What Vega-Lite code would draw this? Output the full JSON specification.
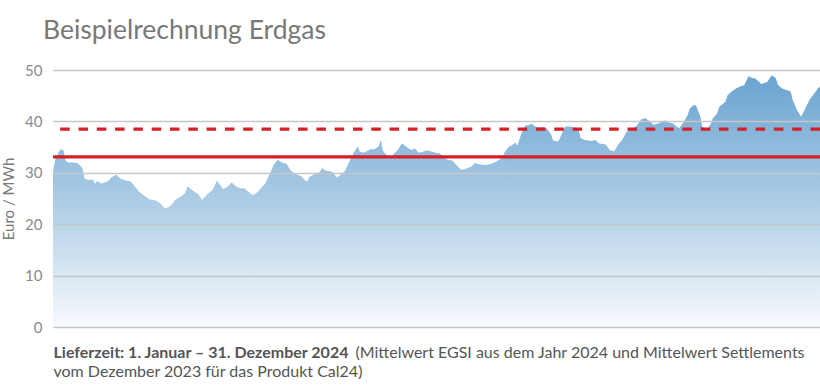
{
  "$schema": "https://vega.github.io/schema/vega-lite/v6.json",
  "width": 767,
  "height": 257,
  "autosize": {"type": "none"},
  "padding": {"left": 53, "top": 70, "right": 0, "bottom": 63},
  "background": "white",
  "config": {"view": {"stroke": null}, "font": "Lato"},
  "title": {
    "text": "Beispielrechnung Erdgas",
    "anchor": "start",
    "frame": "group",
    "font": "Lato",
    "fontSize": 26.5,
    "fontWeight": "normal",
    "color": "#787878",
    "offset": 19,
    "dx": -10
  },
  "datasets": {
    "preise": [
      {"tag": 0, "wert": 30.2}, {"tag": 1, "wert": 32.5}, {"tag": 3, "wert": 34.3}, {"tag": 4, "wert": 34.6},
      {"tag": 5, "wert": 34.4}, {"tag": 6, "wert": 32.4}, {"tag": 7, "wert": 32.0}, {"tag": 9, "wert": 32.0},
      {"tag": 10, "wert": 32.0}, {"tag": 12, "wert": 31.8}, {"tag": 14, "wert": 30.9}, {"tag": 15, "wert": 28.9},
      {"tag": 17, "wert": 28.6}, {"tag": 19, "wert": 28.7}, {"tag": 20, "wert": 27.8}, {"tag": 21, "wert": 28.4},
      {"tag": 23, "wert": 27.9}, {"tag": 26, "wert": 28.3}, {"tag": 28, "wert": 29.2}, {"tag": 30, "wert": 29.6},
      {"tag": 32, "wert": 28.9}, {"tag": 34, "wert": 28.6}, {"tag": 37, "wert": 28.3}, {"tag": 39, "wert": 27.3},
      {"tag": 41, "wert": 26.3}, {"tag": 44, "wert": 25.4}, {"tag": 46, "wert": 24.8}, {"tag": 49, "wert": 24.6},
      {"tag": 51, "wert": 24.1}, {"tag": 53, "wert": 23.1}, {"tag": 55, "wert": 23.3}, {"tag": 57, "wert": 24.1},
      {"tag": 58, "wert": 24.7}, {"tag": 60, "wert": 25.2}, {"tag": 61, "wert": 25.4}, {"tag": 63, "wert": 26.1},
      {"tag": 64, "wert": 27.4}, {"tag": 66, "wert": 26.7}, {"tag": 68, "wert": 26.1}, {"tag": 69, "wert": 25.9},
      {"tag": 71, "wert": 24.7}, {"tag": 73, "wert": 25.7}, {"tag": 76, "wert": 26.7}, {"tag": 78, "wert": 28.5},
      {"tag": 79, "wert": 27.9}, {"tag": 81, "wert": 26.8}, {"tag": 83, "wert": 27.3}, {"tag": 85, "wert": 28.1},
      {"tag": 87, "wert": 27.4}, {"tag": 89, "wert": 27.0}, {"tag": 91, "wert": 27.0}, {"tag": 93, "wert": 26.3},
      {"tag": 95, "wert": 25.7}, {"tag": 97, "wert": 26.1}, {"tag": 99, "wert": 27.0}, {"tag": 101, "wert": 27.9},
      {"tag": 103, "wert": 29.6}, {"tag": 105, "wert": 31.5}, {"tag": 107, "wert": 32.6}, {"tag": 108, "wert": 32.2},
      {"tag": 110, "wert": 31.8}, {"tag": 111, "wert": 31.8}, {"tag": 113, "wert": 30.5}, {"tag": 115, "wert": 29.8},
      {"tag": 118, "wert": 29.4}, {"tag": 120, "wert": 28.5}, {"tag": 121, "wert": 28.3}, {"tag": 122, "wert": 29.2},
      {"tag": 125, "wert": 29.8}, {"tag": 127, "wert": 30.2}, {"tag": 128, "wert": 30.9}, {"tag": 130, "wert": 30.4},
      {"tag": 133, "wert": 30.2}, {"tag": 135, "wert": 29.1}, {"tag": 137, "wert": 29.6}, {"tag": 139, "wert": 30.4},
      {"tag": 141, "wert": 32.2}, {"tag": 143, "wert": 33.8}, {"tag": 145, "wert": 35.1}, {"tag": 146, "wert": 34.1},
      {"tag": 148, "wert": 33.9}, {"tag": 151, "wert": 34.6}, {"tag": 153, "wert": 34.6}, {"tag": 155, "wert": 35.1},
      {"tag": 156, "wert": 36.4}, {"tag": 157, "wert": 34.3}, {"tag": 159, "wert": 33.3}, {"tag": 161, "wert": 33.2},
      {"tag": 164, "wert": 34.4}, {"tag": 166, "wert": 35.7}, {"tag": 168, "wert": 35.1}, {"tag": 169, "wert": 34.8},
      {"tag": 171, "wert": 34.4}, {"tag": 172, "wert": 34.8}, {"tag": 174, "wert": 33.9}, {"tag": 176, "wert": 34.1},
      {"tag": 178, "wert": 34.4}, {"tag": 182, "wert": 33.9}, {"tag": 184, "wert": 33.8}, {"tag": 186, "wert": 33.0},
      {"tag": 188, "wert": 32.5}, {"tag": 190, "wert": 32.4}, {"tag": 192, "wert": 31.5}, {"tag": 194, "wert": 30.7},
      {"tag": 195, "wert": 30.6}, {"tag": 197, "wert": 30.9}, {"tag": 199, "wert": 31.2}, {"tag": 201, "wert": 32.0},
      {"tag": 202, "wert": 31.7}, {"tag": 205, "wert": 31.5}, {"tag": 206, "wert": 31.5}, {"tag": 209, "wert": 31.8},
      {"tag": 211, "wert": 32.2}, {"tag": 214, "wert": 33.0}, {"tag": 215, "wert": 34.1}, {"tag": 217, "wert": 35.1},
      {"tag": 218, "wert": 35.2}, {"tag": 220, "wert": 35.9}, {"tag": 221, "wert": 35.3}, {"tag": 223, "wert": 37.8},
      {"tag": 225, "wert": 39.3}, {"tag": 226, "wert": 39.2}, {"tag": 228, "wert": 39.6}, {"tag": 229, "wert": 39.1},
      {"tag": 231, "wert": 38.8}, {"tag": 233, "wert": 38.9}, {"tag": 235, "wert": 38.6}, {"tag": 237, "wert": 37.5},
      {"tag": 238, "wert": 36.3}, {"tag": 240, "wert": 36.1}, {"tag": 241, "wert": 36.5}, {"tag": 243, "wert": 38.5},
      {"tag": 244, "wert": 39.0}, {"tag": 246, "wert": 39.0}, {"tag": 248, "wert": 38.8}, {"tag": 250, "wert": 38.6},
      {"tag": 251, "wert": 36.8}, {"tag": 253, "wert": 36.4}, {"tag": 256, "wert": 36.2}, {"tag": 258, "wert": 36.4},
      {"tag": 260, "wert": 35.7}, {"tag": 263, "wert": 35.5}, {"tag": 265, "wert": 34.4}, {"tag": 267, "wert": 34.2},
      {"tag": 269, "wert": 35.5}, {"tag": 271, "wert": 36.5}, {"tag": 273, "wert": 38.0}, {"tag": 276, "wert": 38.6},
      {"tag": 278, "wert": 39.3}, {"tag": 280, "wert": 40.4}, {"tag": 282, "wert": 40.6}, {"tag": 284, "wert": 40.0},
      {"tag": 286, "wert": 39.3}, {"tag": 287, "wert": 39.5}, {"tag": 289, "wert": 39.8}, {"tag": 291, "wert": 40.2},
      {"tag": 293, "wert": 39.8}, {"tag": 295, "wert": 39.6}, {"tag": 297, "wert": 38.9}, {"tag": 298, "wert": 38.7},
      {"tag": 300, "wert": 39.8}, {"tag": 302, "wert": 41.2}, {"tag": 303, "wert": 42.5}, {"tag": 305, "wert": 43.2},
      {"tag": 306, "wert": 43.1}, {"tag": 308, "wert": 41.0}, {"tag": 309, "wert": 39.0}, {"tag": 311, "wert": 38.3},
      {"tag": 313, "wert": 39.5}, {"tag": 314, "wert": 40.6}, {"tag": 316, "wert": 41.5}, {"tag": 317, "wert": 42.8},
      {"tag": 320, "wert": 43.8}, {"tag": 321, "wert": 45.1}, {"tag": 323, "wert": 45.8}, {"tag": 325, "wert": 46.4},
      {"tag": 327, "wert": 46.8}, {"tag": 329, "wert": 47.1}, {"tag": 331, "wert": 48.8}, {"tag": 333, "wert": 48.4},
      {"tag": 334, "wert": 48.4}, {"tag": 336, "wert": 47.7}, {"tag": 337, "wert": 47.3}, {"tag": 339, "wert": 47.5},
      {"tag": 340, "wert": 47.7}, {"tag": 342, "wert": 49.0}, {"tag": 344, "wert": 48.4}, {"tag": 345, "wert": 47.1},
      {"tag": 347, "wert": 46.4}, {"tag": 349, "wert": 46.1}, {"tag": 351, "wert": 45.8}, {"tag": 352, "wert": 44.2},
      {"tag": 354, "wert": 42.2}, {"tag": 355, "wert": 41.6}, {"tag": 356, "wert": 40.9}, {"tag": 358, "wert": 42.5},
      {"tag": 360, "wert": 44.2}, {"tag": 363, "wert": 45.8}, {"tag": 364, "wert": 46.4}, {"tag": 365, "wert": 46.8}
    ],
    "mittelwerte": [
      {"art": "Mittelwert EGSI 2024", "wert": 33.1},
      {"art": "Mittelwert Settlements Dezember 2023 (Cal24)", "wert": 38.5}
    ]
  },
  "layer": [
    {
      "data": {"name": "preise"},
      "mark": {
        "type": "area",
        "interpolate": "linear",
        "color": {
          "gradient": "linear",
          "x1": 0, "y1": 0, "x2": 0, "y2": 1,
          "stops": [
            {"offset": 0, "color": "#6aa4d1"},
            {"offset": 0.45, "color": "#a5c8e3"},
            {"offset": 1, "color": "#f7fafd"}
          ]
        }
      },
      "encoding": {
        "x": {
          "field": "tag",
          "type": "quantitative",
          "scale": {"domain": [0, 365], "nice": false, "zero": false},
          "axis": {
            "values": [0, 143.7],
            "domain": false,
            "ticks": false,
            "grid": false,
            "labelExpr": "datum.value == 0 ? 'Lieferzeit: 1. Januar – 31. Dezember 2024' : '(Mittelwert EGSI aus dem Jahr 2024 und Mittelwert Settlements'",
            "labelAlign": "left",
            "labelBaseline": "top",
            "labelFont": "Lato",
            "labelFontSize": 16,
            "labelFontWeight": {"condition": {"test": "datum.value == 0", "value": "bold"}, "value": "normal"},
            "labelColor": "#555555",
            "labelPadding": 17,
            "labelLimit": 0,
            "labelOverlap": false,
            "labelBound": false,
            "labelFlush": false,
            "title": "vom Dezember 2023 für das Produkt Cal24)",
            "titleAnchor": "start",
            "titleAlign": "left",
            "titleFont": "Lato",
            "titleFontSize": 16,
            "titleFontWeight": "normal",
            "titleColor": "#555555",
            "titlePadding": 3
          }
        },
        "y": {
          "field": "wert",
          "type": "quantitative",
          "scale": {"domain": [0, 50], "nice": false},
          "axis": {
            "values": [0, 10, 20, 30, 40, 50],
            "domain": false,
            "ticks": false,
            "grid": true,
            "gridColor": "#c6c6c6",
            "gridWidth": 1.5,
            "zindex": 1,
            "labelFont": "Lato",
            "labelFontSize": 15,
            "labelColor": "#8a8a8a",
            "labelPadding": 11,
            "title": "Euro / MWh",
            "titleFont": "Lato",
            "titleFontSize": 15,
            "titleFontWeight": "normal",
            "titleColor": "#7a7a7a",
            "titlePadding": 8
          }
        }
      }
    },
    {
      "data": {"name": "mittelwerte"},
      "mark": {"type": "rule", "color": "#d61f26", "strokeWidth": 3.2},
      "encoding": {
        "y": {"field": "wert", "type": "quantitative"},
        "strokeDash": {
          "field": "art",
          "type": "nominal",
          "scale": {"domain": ["Mittelwert EGSI 2024", "Mittelwert Settlements Dezember 2023 (Cal24)"], "range": [[1, 0], [9.5, 8.8]]},
          "legend": null
        }
      }
    }
  ]
}
